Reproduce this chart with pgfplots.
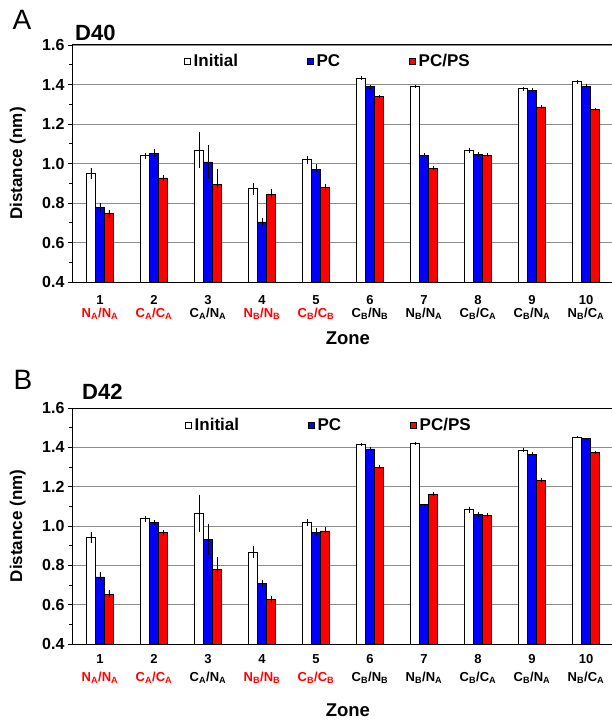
\documentclass[border=0pt]{standalone}
\usepackage{fontspec}
\setmainfont{Liberation Sans}
\usepackage{pgfplots}
\usepackage{pgfplotstable}
\pgfplotsset{compat=1.18}

% zone, mean and error of each series
\pgfplotstableread{
x ini inie pc pce ps pse
1 0.949 0.030 0.777 0.025 0.746 0.020
2 1.039 0.015 1.051 0.020 0.927 0.015
3 1.069 0.090 1.008 0.085 0.893 0.077
4 0.872 0.030 0.704 0.020 0.843 0.030
5 1.019 0.020 0.970 0.025 0.878 0.020
6 1.431 0.010 1.389 0.010 1.340 0.008
7 1.392 0.008 1.041 0.010 0.975 0.010
8 1.066 0.015 1.047 0.012 1.042 0.010
9 1.379 0.010 1.372 0.010 1.287 0.010
10 1.414 0.010 1.392 0.010 1.275 0.008
}\dataA
\pgfplotstableread{
x ini inie pc pce ps pse
1 0.942 0.030 0.741 0.025 0.654 0.020
2 1.037 0.015 1.017 0.015 0.966 0.015
3 1.064 0.095 0.932 0.080 0.781 0.060
4 0.868 0.030 0.708 0.020 0.625 0.017
5 1.017 0.017 0.968 0.020 0.975 0.020
6 1.415 0.008 1.392 0.008 1.300 0.008
7 1.420 0.007 1.108 0.005 1.163 0.008
8 1.083 0.015 1.058 0.015 1.053 0.015
9 1.386 0.010 1.364 0.010 1.232 0.010
10 1.453 0.005 1.444 0.005 1.375 0.007
}\dataB

\newcommand\zt[3]{\textbf{#1}\\[\zgap]\textcolor{#2}{#3}}
\newcommand\sA{\textsubscript{A}}
\newcommand\sB{\textsubscript{B}}

\pgfplotsset{
  eb/.style={error bars/.cd, y dir=both, y explicit, error mark=none,
    error bar style={black, line width=0.7pt}},
  panel/.style={
    scale only axis, width=542pt,
    xmin=0.4815, xmax=10.5185, ymin=0.4, ymax=1.6,
    ytick={0.4,0.6,0.8,1.0,1.2,1.4,1.6},
    minor ytick={0.5,0.7,0.9,1.1,1.3,1.5},
    ymajorgrids, major grid style={draw=black!45, line width=0.6pt},
    tick align=outside, major tick length=4pt, minor tick length=3pt,
    ytick pos=left, xtick pos=bottom,
    tick style={black, line width=0.7pt},
    xtick={1,...,10}, xtick style={draw=none},
    axis line style={line width=1pt},
    ybar=0pt, bar width=9pt,
    yticklabel style={font=\bfseries\fontsize{16}{17}\selectfont,
      /pgf/number format/fixed, /pgf/number format/fixed zerofill,
      /pgf/number format/precision=1, /pgf/number format/assume math mode=true},
    xticklabel style={font=\bfseries\fontsize{13}{14}\selectfont, align=center},
    xticklabels={
      {\zt{1}{red}{N\sA/N\sA}},
      {\zt{2}{red}{C\sA/C\sA}},
      {\zt{3}{black}{C\sA/N\sA}},
      {\zt{4}{red}{N\sB/N\sB}},
      {\zt{5}{red}{C\sB/C\sB}},
      {\zt{6}{black}{C\sB/N\sB}},
      {\zt{7}{black}{N\sB/N\sA}},
      {\zt{8}{black}{C\sB/C\sA}},
      {\zt{9}{black}{C\sB/N\sA}},
      {\zt{10}{black}{N\sB/C\sA}}},
    ylabel={Distance (nm)},
    ylabel style={font=\bfseries\fontsize{17}{17}\selectfont,
      at={(axis description cs:-0.1,0.5)}, anchor=center},
    xlabel={Zone},
    legend style={draw=none, fill=none, anchor=west, legend columns=3,
      font=\bfseries\fontsize{17}{17}\selectfont, inner sep=0pt,
      nodes={inner xsep=3.5pt, inner ysep=0pt},
      /tikz/every even column/.append style={column sep=65pt}},
    legend image code/.code={\draw[#1, line width=0.5pt] (0pt,-3pt) rectangle (6pt,3pt);},
  }
}

\begin{document}
\begin{tikzpicture}
\path[use as bounding box] (0,0) rectangle (612pt,-722pt);

\def\zgap{-1pt}
\begin{axis}[panel, at={(72pt,-282pt)}, anchor=south west, height=237pt,
  xticklabel style={yshift=-6pt},
  xlabel style={font=\bfseries\fontsize{18.5}{18.5}\selectfont,
    at={(axis description cs:0.509,-0.237)}, anchor=center},
  legend style={at={(axis description cs:0.2057,0.9325)}}]
\addplot[fill=white, draw=black, line width=0.6pt, eb] table[x=x, y=ini, y error=inie] {\dataA};
\addplot[fill=blue, draw=black, line width=0.6pt, eb] table[x=x, y=pc, y error=pce] {\dataA};
\addplot[fill=red, draw=black, line width=0.6pt, eb] table[x=x, y=ps, y error=pse] {\dataA};
\legend{Initial, PC, PC/PS}
\end{axis}

\def\zgap{4pt}
\begin{axis}[panel, at={(72pt,-644pt)}, anchor=south west, height=236pt,
  xticklabel style={yshift=-3pt},
  xlabel style={font=\bfseries\fontsize{18.5}{18.5}\selectfont,
    at={(axis description cs:0.509,-0.28)}, anchor=center},
  legend style={at={(axis description cs:0.2075,0.928)}}]
\addplot[fill=white, draw=black, line width=0.6pt, eb] table[x=x, y=ini, y error=inie] {\dataB};
\addplot[fill=blue, draw=black, line width=0.6pt, eb] table[x=x, y=pc, y error=pce] {\dataB};
\addplot[fill=red, draw=black, line width=0.6pt, eb] table[x=x, y=ps, y error=pse] {\dataB};
\legend{Initial, PC, PC/PS}
\end{axis}

\node[font=\fontsize{28}{28}\selectfont] at (22pt,-20pt) {A};
\node[font=\bfseries\fontsize{22}{22}\selectfont, anchor=west, inner sep=0pt] at (75pt,-33pt) {D40};
\node[font=\fontsize{28}{28}\selectfont] at (23pt,-380pt) {B};
\node[font=\bfseries\fontsize{22}{22}\selectfont, anchor=west, inner sep=0pt] at (82pt,-392pt) {D42};
\end{tikzpicture}
\end{document}
